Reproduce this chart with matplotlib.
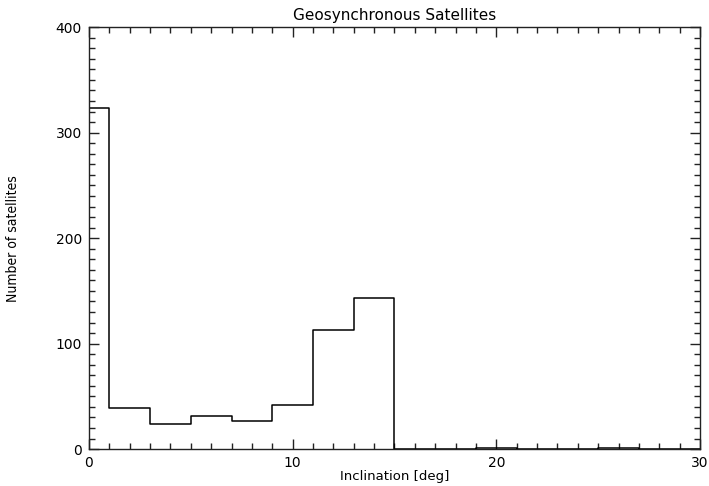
import numpy as np
import matplotlib
matplotlib.use("Agg")
from matplotlib import pyplot as plt
from matplotlib.ticker import MultipleLocator

# bin centres (deg) and counts
inclination = np.arange(0, 31, 2)
counts = [323, 39, 24, 31, 27, 42, 113, 143, 0, 0, 1, 0, 0, 1, 0, 0]

plt.rcParams['font.family'] = ['DejaVu Sans']

fig = plt.figure(figsize=(7.09, 4.86), dpi=100)
ax = fig.add_axes([0.1255, 0.076, 0.8618, 0.868])
ax.step(inclination, counts, where='mid', color='black', linewidth=1.1)

ax.set_xlim(0, 30)
ax.set_ylim(0, 400)
ax.xaxis.set_major_locator(MultipleLocator(10))
ax.xaxis.set_minor_locator(MultipleLocator(1))
ax.yaxis.set_major_locator(MultipleLocator(100))
ax.yaxis.set_minor_locator(MultipleLocator(10))
ax.tick_params(which='both', direction='in', top=True, right=True,
               labelsize=10, width=1, color='#222222')
ax.tick_params(which='major', length=7, pad=5)
ax.tick_params(which='minor', length=4)
for s in ax.spines.values():
    s.set_linewidth(1)
    s.set_color('#222222')

ax.set_title('Geosynchronous Satellites', fontsize=11, pad=5)
ax.set_xlabel('Inclination [deg]', fontsize=9.5, labelpad=0)
ax.set_ylabel('Number of satellites', fontsize=10, labelpad=26,
              fontstretch='condensed')

plt.savefig('out.png', dpi=100)
